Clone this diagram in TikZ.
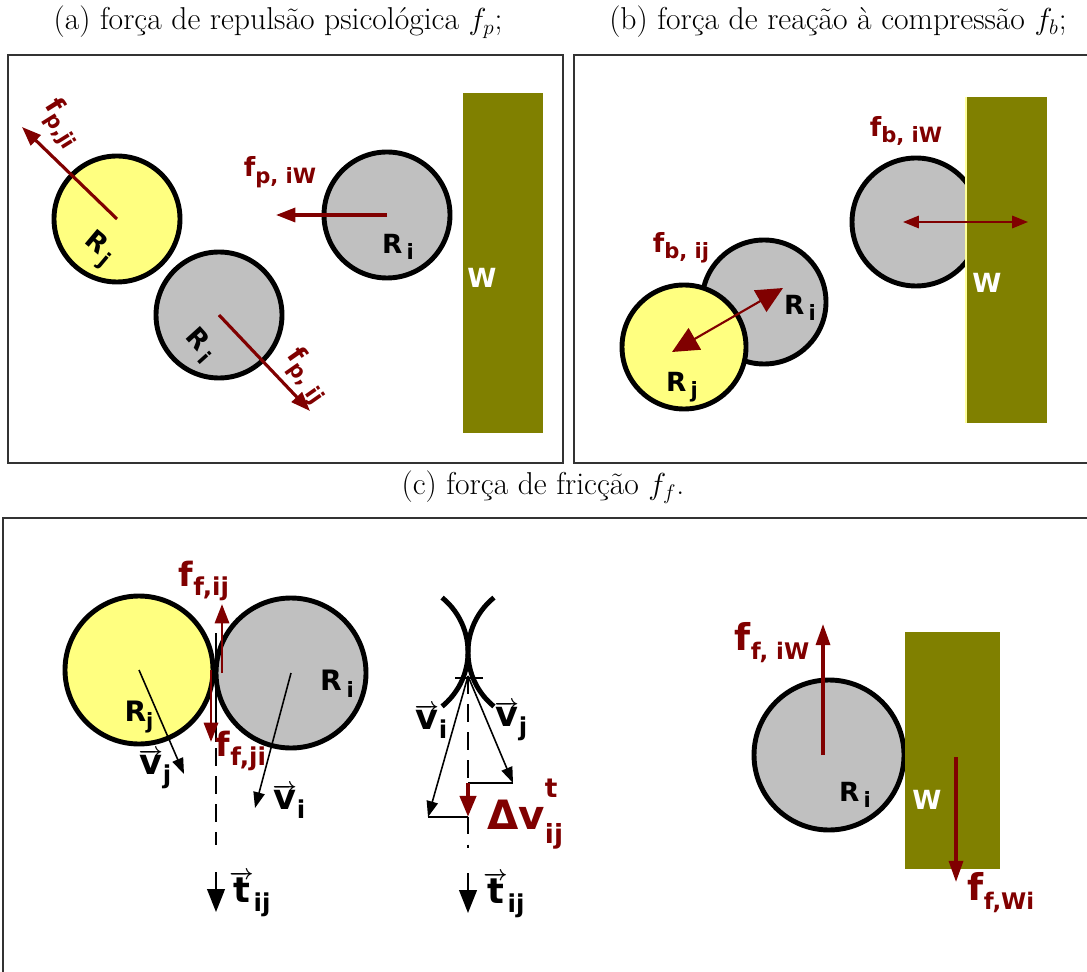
\documentclass[tikz,border=0pt]{standalone}
\usepackage{fontspec}
\newfontfamily\lblfont{DejaVu Sans}
\usetikzlibrary{arrows.meta}
\definecolor{forcered}{HTML}{800000}
\definecolor{wallgreen}{HTML}{808000}
\definecolor{pedyellow}{HTML}{FFFF80}
\definecolor{pedgray}{HTML}{C0C0C0}
\definecolor{walledge}{HTML}{FFFF99}
% subscript / vector helpers
\newcommand\sub[2][12]{\raisebox{-0.45ex}{\fontsize{#1}{#1}\selectfont #2}}
\newcommand\vecarr[1]{{\fontsize{12}{12}\selectfont\boldmath$\overrightarrow{\hbox{\fontsize{20}{22}\selectfont #1}}$}}
\tikzset{
  panel/.style={draw=black!80, line width=0.6pt},
  ped/.style={draw=black, line width=2.8pt},
  force/.style={draw=forcered, line width=1.8pt, -{Triangle[length=11pt,width=8pt]}},
  vel/.style={draw=black, line width=0.9pt, -{Triangle[length=9pt,width=6.5pt]}},
  tdir/.style={draw=black, line width=1.2pt, -{Triangle[length=13pt,width=10pt]}},
  axis/.style={draw=black, line width=1.3pt, dash pattern=on 10pt off 6pt},
  lbl/.style={inner sep=0pt, font=\lblfont\bfseries\fontsize{15}{17}\selectfont},
  flbl/.style={lbl, text=forcered},
  biglbl/.style={inner sep=0pt, font=\lblfont\bfseries\fontsize{20}{22}\selectfont},
  captxt/.style={inner sep=0pt, font=\fontsize{18}{22}\selectfont},
}
\begin{document}
\begin{tikzpicture}[x=0.02cm,y=-0.02cm]
\useasboundingbox (0,0) rectangle (1087,972);

% captions
\node[captxt] (capa) at (278,22) {(a) força de repulsão psicológica $f_p$;};
\node[captxt] (capb) at (838,22) {(b) força de reação à compressão $f_b$;};
\node[captxt] (capc) at (543,487) {(c) força de fricção $f_f$.};

% (a) repulsao psicologica
\draw[panel] (8,55) rectangle (563,463);
\fill[wallgreen] (463,93) rectangle (543,433);
\coordinate (aj) at (117,219);
\coordinate (ai) at (219,315);
\coordinate (aw) at (387,215);
\draw[ped,fill=pedyellow] (aj) circle[radius=63];
\draw[ped,fill=pedgray] (ai) circle[radius=63];
\draw[ped,fill=pedgray] (aw) circle[radius=63];
\coordinate (ajtip) at (22,127);
\coordinate (aitip) at (310,411);
\coordinate (awtip) at (276,215);
\draw[force] (aj) -- (ajtip);
\draw[force] (ai) -- (aitip);
\draw[force] (aw) -- (awtip);
\node[flbl,rotate=-58] (fpji) at (61,124) {f\sub{p,ji}};
\node[flbl] (fpiw) at (280,172) {f\sub{p, iW}};
\node[flbl,rotate=-55] (fpij) at (306,376) {f\sub{p, ij}};
\node[lbl,rotate=-40] (raj) at (98,250) {R\,\sub{j}};
\node[lbl,rotate=-48] (rai) at (200,345) {R\,\sub{i}};
\node[lbl] (raw) at (398,247) {R\,\sub{i}};
\node[lbl,text=white] (wa) at (482,278) {W};

% (b) reacao a compressao
\draw[panel] (1090,55) -- (574,55) -- (574,463) -- (1090,463);
\coordinate (bw) at (916,222);
\coordinate (bi) at (764,302);
\coordinate (bj) at (684,347);
\draw[ped,fill=pedgray] (bw) circle[radius=64];
\fill[wallgreen] (966,97) rectangle (1047,423);
\draw[walledge,line width=1.2pt] (966,97) -- (966,423);
\draw[ped,fill=pedgray] (bi) circle[radius=62];
\draw[ped,fill=pedyellow] (bj) circle[radius=62];
\coordinate (bwl) at (903,222);
\coordinate (bwr) at (1028,222);
\coordinate (bijtip) at (783,288);
\coordinate (bjitip) at (672,352);
\draw[draw=forcered,line width=1.2pt,{Triangle[length=9pt,width=7pt]}-{Triangle[length=9pt,width=7pt]}] (bwl) -- (bwr);
\draw[draw=forcered,line width=1.2pt,{Triangle[length=15pt,width=14pt]}-{Triangle[length=15pt,width=14pt]}] (bjitip) -- (bijtip);
\node[flbl] (fbiw) at (906,131) {f\sub{b, iW}};
\node[flbl] (fbij) at (681,248) {f\sub{b, ij}};
\node[lbl] (rbi) at (800,308) {R\,\sub{i}};
\node[lbl] (rbj) at (682,387) {R\,\sub{j}};
\node[lbl,text=white] (wb) at (987,283) {W};

% (c) friccao
\draw[panel] (1090,518) -- (3,518) -- (3,975);
% contato entre pedestres
\coordinate (cj) at (139,670);
\coordinate (ci) at (291,673);
\draw[ped,fill=pedyellow] (cj) circle[radius=74];
\draw[ped,fill=pedgray] (ci) circle[radius=75];
\draw[black,line width=0.9pt] (216,633) -- (216,742);
\draw[axis] (216,748) -- (216,845);
\coordinate (cjtip) at (184,774);
\coordinate (citip) at (255,808);
\draw[vel] (cj) -- (cjtip);
\draw[vel] (ci) -- (citip);
\coordinate (fijs) at (222,673);
\coordinate (fijt) at (222,604);
\coordinate (fjis) at (211,670);
\coordinate (fjit) at (211,742);
\draw[force,line width=1.7pt] (fijs) -- (fijt);
\draw[force,line width=1.7pt] (fjis) -- (fjit);
\node[biglbl,text=forcered,font=\lblfont\bfseries\fontsize{19}{21}\selectfont] (ffij) at (204,581) {f\sub[14]{f,ij}};
\node[biglbl,text=forcered,font=\lblfont\bfseries\fontsize{19}{21}\selectfont] (ffji) at (241,751) {f\sub[14]{f,ji}};
\node[lbl,font=\lblfont\bfseries\fontsize{16}{18}\selectfont] (rcj) at (139,717) {R\sub{j}};
\node[lbl,font=\lblfont\bfseries\fontsize{16}{18}\selectfont] (rci) at (337,684) {R\,\sub{i}};
\node[biglbl] (vcj) at (155,769) {\vecarr{v}\sub[14]{j}};
\node[biglbl] (vci) at (289,801) {\vecarr{v}\sub[14]{i}};
\coordinate (tls) at (216,872);
\coordinate (tle) at (216,912);
\draw[tdir] (tls) -- (tle);
\node[biglbl] (tl) at (250,894) {\vecarr{t}\sub[14]{ij}};

% decomposicao das velocidades
\draw[ped] (398,652) ++(-51:70) arc[start angle=-51,end angle=51,radius=70];
\draw[ped] (538,652) ++(231:70) arc[start angle=231,end angle=129,radius=70];
\draw[black,line width=0.8pt] (455,678) -- (483,678);
\coordinate (o) at (468,676);
\coordinate (vitip) at (428,817);
\coordinate (vjtip) at (513,783);
\coordinate (vip) at (468,817);
\coordinate (vjp) at (468,783);
\draw[axis] (o) -- (468,848);
\draw[vel] (o) -- (vitip);
\draw[vel] (o) -- (vjtip);
\draw[black,line width=0.9pt] (vitip) -- (vip);
\draw[black,line width=0.9pt] (vjtip) -- (vjp);
\draw[draw=forcered,line width=2.6pt,-{Triangle[length=12pt,width=9pt]}] (vjp) -- (vip);
\node[biglbl] (vmi) at (431,721) {\vecarr{v}\sub[14]{i}};
\node[biglbl] (vmj) at (511,721) {\vecarr{v}\sub[14]{j}};
\node[inner sep=0pt,text=forcered,font=\lblfont\bfseries\fontsize{23}{25}\selectfont,anchor=west] (dv) at (487,814)
  {Δv\makebox[0pt][l]{\raisebox{1.45ex}{\fontsize{15}{15}\selectfont t}}\raisebox{-0.6ex}{\fontsize{15}{15}\selectfont ij}};
\coordinate (trs) at (468,873);
\coordinate (tre) at (468,913);
\draw[tdir] (trs) -- (tre);
\node[biglbl] (tr) at (504,895) {\vecarr{t}\sub[14]{ij}};

% pedestre e parede
\coordinate (cw) at (829,755);
\draw[ped,fill=pedgray] (cw) circle[radius=75];
\fill[wallgreen] (905,632) rectangle (1000,869);
\coordinate (fiwt) at (823,624);
\coordinate (fwis) at (956,757);
\coordinate (fwit) at (956,882);
\draw[force,-{Triangle[length=12pt,width=8pt]}] (823,755) -- (fiwt);
\draw[force,-{Triangle[length=12pt,width=8pt]}] (fwis) -- (fwit);
\node[biglbl,text=forcered,font=\lblfont\bfseries\fontsize{21}{23}\selectfont] (ffiw) at (772,643) {f\sub[13]{f, iW}};
\node[biglbl,text=forcered,font=\lblfont\bfseries\fontsize{21}{23}\selectfont] (ffwi) at (1001,893) {f\sub[13]{f,Wi}};
\node[lbl] (rcw) at (855,795) {R\,\sub{i}};
\node[lbl,text=white] (wc) at (927,800) {W};
\end{tikzpicture}
\end{document}
